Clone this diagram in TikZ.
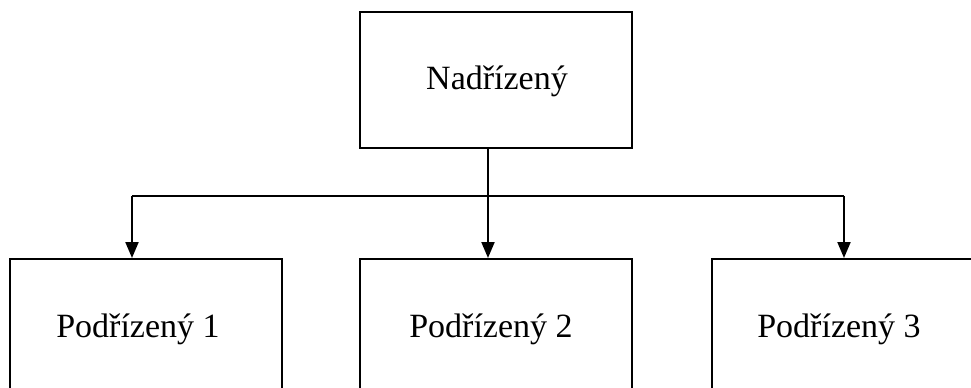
\documentclass[tikz,border=0pt]{standalone}
\usepackage{fontspec}
\setmainfont{Liberation Serif}
\usetikzlibrary{arrows.meta}
\begin{document}
\begin{tikzpicture}[x=0.5pt,y=-0.5pt,
  box/.style={draw=black, line width=1pt, minimum width=136pt, minimum height=68pt, inner sep=0pt},
  lbl/.style={font=\fontsize{17}{20}\selectfont, inner sep=0pt, anchor=base},
  wire/.style={draw=black, line width=1pt},
  arr/.style={wire, -{Triangle[length=8pt,width=6.5pt]}}]
  \useasboundingbox (0,0) rectangle (971,387);
  \clip (0,0) rectangle (971,387);

  % superior
  \node[box] (sup) at (496,80) {};
  \node[lbl] (tsup) at (497,89) {Nadřízený};

  % subordinates (lower edges run off the page)
  \node[box] (p1) at (145.5,327) {};
  \node[box] (p2) at (496,327) {};
  \node[box] (p3) at (848,327) {};
  \node[lbl] (t1) at (138,337) {Podřízený 1};
  \node[lbl] (t2) at (491,337) {Podřízený 2};
  \node[lbl] (t3) at (839,337) {Podřízený 3};

  % distribution bus
  \coordinate (bus) at (488,196);
  \coordinate (j1) at (132,196);
  \coordinate (j3) at (844,196);

  \draw[wire] (sup.south -| bus) -- (bus);
  \draw[wire] (j1) -- (j3);
  \draw[arr] (j1) -- (j1 |- p1.north);
  \draw[arr] (bus) -- (bus |- p2.north);
  \draw[arr] (j3) -- (j3 |- p3.north);
\end{tikzpicture}
\end{document}
